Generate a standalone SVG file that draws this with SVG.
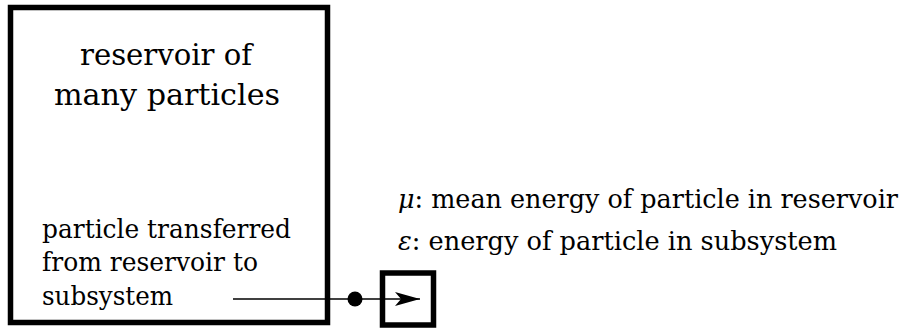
<svg xmlns="http://www.w3.org/2000/svg" width="906" height="329" viewBox="0 0 906 329">
<style>
.box{fill:none;stroke:#000;stroke-width:5.5}
text{fill:#000;font-family:"DejaVu Serif Condensed","DejaVu Serif",serif}
.big{font-size:30px}
.sm{font-size:25.5px}
.it{font-style:italic}
.conn{stroke:#000;stroke-width:1.6;fill:none}
</style>
<defs>
<marker id="stealth" viewBox="0 0 26 16" refX="25" refY="8" markerWidth="26" markerHeight="16" markerUnits="userSpaceOnUse" orient="auto">
<path d="M25,8 L0,1 L6,8 L0,15 Z" fill="#000"/>
</marker>
</defs>
<g id="reservoir">
<rect class="box" x="10.5" y="7.5" width="317" height="315"/>
<text class="big" text-anchor="middle" x="166" y="65" textLength="172" lengthAdjust="spacingAndGlyphs">reservoir of</text>
<text class="big" text-anchor="middle" x="167" y="105" textLength="226" lengthAdjust="spacingAndGlyphs">many particles</text>
<text class="sm" x="42" y="238" textLength="249" lengthAdjust="spacingAndGlyphs">particle transferred</text>
<text class="sm" x="42" y="271" textLength="216" lengthAdjust="spacingAndGlyphs">from reservoir to</text>
<text class="sm" x="42" y="305" textLength="131" lengthAdjust="spacingAndGlyphs">subsystem</text>
</g>
<g id="subsystem">
<rect class="box" x="382.5" y="273" width="51" height="52"/>
</g>
<g id="legend">
<text class="sm" x="398" y="208" textLength="500" lengthAdjust="spacingAndGlyphs"><tspan class="it">μ</tspan>: mean energy of particle in reservoir</text>
<text class="sm" x="398" y="250" textLength="439" lengthAdjust="spacingAndGlyphs"><tspan class="it">ε</tspan>: energy of particle in subsystem</text>
</g>
<g id="connectors">
<line class="conn" x1="233" y1="299" x2="420" y2="299" marker-end="url(#stealth)"/>
<circle cx="355" cy="299" r="7.5" fill="#000"/>
</g>
</svg>
